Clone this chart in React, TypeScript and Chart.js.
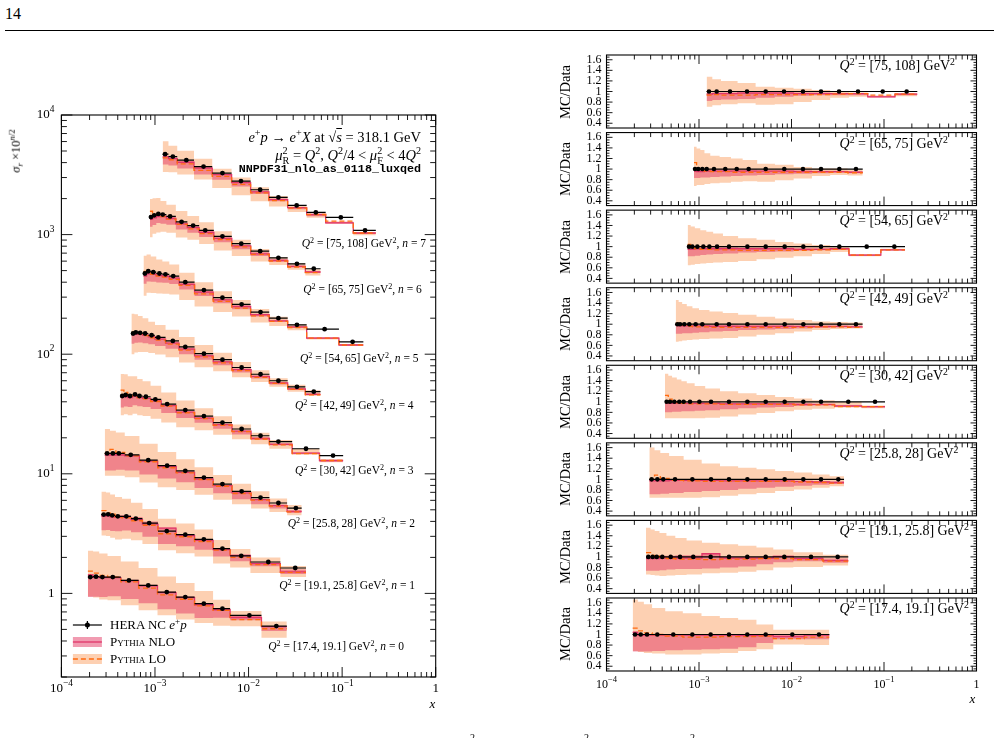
import React, { useEffect, useRef } from 'react';
import { Chart, registerables } from 'chart.js';

Chart.register(...registerables);

const W = 999;
const H = 738;

// ---------------- values ----------------
// Q² bins, index = n (left panel values are sigma_r x 10^(n/2))
const q2Low = ['17.4', '19.1', '25.8', '30', '42', '54', '65', '75'];
const q2High = ['19.1', '25.8', '28', '42', '49', '65', '75', '108'];
const nValues = [0, 1, 2, 3, 4, 5, 6, 7];

// tick values
const xTickExps = [-4, -3, -2, -1, 0];
const yTickExpsLeft = [0, 1, 2, 3, 4];
const ratioTicks = [0.4, 0.6, 0.8, 1, 1.2, 1.4, 1.6];
const ratioTickLabels = ['0.4', '0.6', '0.8', '1', '1.2', '1.4', '1.6'];

// log10(x) of the bin centres (data points)
const xCenters = [
  [-3.692, -3.63, -3.562, -3.451, -3.278, -3.072, -2.874, -2.676, -2.478, -2.279, -1.991, -1.703],
  [-3.548, -3.501, -3.457, -3.397, -3.306, -3.205, -3.062, -2.874, -2.676, -2.478, -2.279, -2.078, -1.789, -1.501],
  [-3.512, -3.45, -3.386, -3.259, -3.072, -2.87, -2.676, -2.477, -2.279, -2.074, -1.872, -1.681, -1.494],
  [-3.35, -3.314, -3.267, -3.213, -3.166, -3.097, -2.996, -2.87, -2.676, -2.477, -2.279, -2.074, -1.872, -1.681, -1.386, -1.097],
  [-3.234, -3.205, -3.159, -3.105, -3.036, -2.964, -2.809, -2.676, -2.477, -2.279, -2.074, -1.872, -1.681, -1.483, -1.303],
  [-3.108, -3.072, -3.018, -2.953, -2.888, -2.805, -2.676, -2.477, -2.279, -2.074, -1.872, -1.681, -1.483, -1.187, -0.888],
  [-3.043, -3.008, -2.964, -2.917, -2.838, -2.716, -2.592, -2.463, -2.279, -2.078, -1.876, -1.681, -1.483, -1.303],
  [-2.892, -2.809, -2.665, -2.481, -2.279, -2.081, -1.876, -1.681, -1.486, -1.281, -1.014, -0.755],
];

// log10(x) of the bin edges
const xEdges = [
  [-3.717, -3.661, -3.596, -3.507, -3.365, -3.175, -2.973, -2.775, -2.577, -2.379, -2.197, -1.862, -1.591],
  [-3.573, -3.524, -3.479, -3.427, -3.352, -3.256, -3.134, -2.968, -2.775, -2.577, -2.379, -2.197, -1.98, -1.66, -1.386],
  [-3.537, -3.481, -3.418, -3.323, -3.166, -2.971, -2.773, -2.577, -2.378, -2.177, -1.973, -1.777, -1.588, -1.432],
  [-3.368, -3.332, -3.291, -3.24, -3.19, -3.132, -3.047, -2.933, -2.773, -2.577, -2.378, -2.177, -1.973, -1.777, -1.534, -1.242, -0.989],
  [-3.252, -3.22, -3.182, -3.132, -3.071, -3.0, -2.887, -2.743, -2.577, -2.378, -2.177, -1.973, -1.777, -1.582, -1.393, -1.231],
  [-3.123, -3.09, -3.045, -2.986, -2.921, -2.847, -2.741, -2.577, -2.378, -2.177, -1.978, -1.779, -1.582, -1.379, -1.034, -0.773],
  [-3.054, -3.026, -2.986, -2.941, -2.878, -2.777, -2.654, -2.528, -2.371, -2.179, -1.977, -1.779, -1.582, -1.393, -1.23],
  [-2.918, -2.856, -2.762, -2.583, -2.388, -2.181, -1.978, -1.782, -1.582, -1.379, -1.176, -0.881, -0.64],
];

// HERA NC e+p data as plotted (sigma_r x 10^(n/2))
const sigmaData = [
  [1.37, 1.38, 1.37, 1.37, 1.285, 1.167, 1.025, 0.931, 0.82, 0.745, 0.655, 0.533],
  [4.56, 4.58, 4.5, 4.41, 4.41, 4.22, 3.87, 3.32, 3.1, 2.83, 2.37, 2.06, 1.83, 1.63],
  [14.8, 14.8, 14.8, 14.4, 13.0, 11.7, 10.6, 9.3, 8.2, 7.13, 6.33, 5.7, 5.17],
  [44.7, 45.6, 44.7, 46.1, 44.7, 44.1, 41.9, 38.3, 34.1, 30.4, 26.8, 23.7, 20.8, 18.6, 16.2, 14.2],
  [149, 152, 151, 149, 144, 138, 129, 115, 101, 90, 77.4, 68, 60, 53.4, 48.6],
  [473, 494, 485, 473, 465, 450, 400, 344, 297, 261, 225, 200, 176, 162, 127],
  [1400, 1450, 1490, 1470, 1420, 1280, 1190, 1086, 968, 840, 727, 640, 570, 518],
  [4705, 4493, 4193, 3707, 3266, 2803, 2371, 2046, 1754, 1534, 1393, 1086],
];

// MC / Data : Pythia NLO central
const ratioNLO = [
  [1.04, 0.99, 0.99, 0.99, 0.99, 0.99, 0.99, 0.99, 0.98, 0.98, 0.96, 0.99],
  [0.97, 0.97, 0.97, 0.98, 0.98, 0.98, 0.98, 1.06, 0.98, 0.98, 0.98, 1.01, 0.97, 0.93],
  [0.97, 0.97, 0.97, 0.98, 0.98, 0.98, 0.97, 0.97, 0.97, 0.97, 0.96, 0.95, 0.94],
  [0.98, 0.97, 0.97, 0.97, 0.97, 0.97, 0.97, 0.97, 0.96, 0.96, 0.96, 0.96, 0.95, 0.95, 0.92, 0.91],
  [0.98, 0.97, 0.97, 0.97, 0.97, 0.97, 0.96, 0.96, 0.96, 0.96, 0.96, 0.96, 0.96, 0.96, 0.95],
  [0.95, 0.95, 0.96, 0.96, 0.96, 0.96, 0.96, 0.96, 0.96, 0.96, 0.95, 0.95, 0.96, 0.84, 0.94],
  [0.96, 0.95, 0.95, 0.96, 0.96, 0.96, 0.96, 0.96, 0.96, 0.96, 0.95, 0.95, 0.95, 0.94],
  [0.95, 0.96, 0.96, 0.97, 0.97, 0.97, 0.96, 0.96, 0.96, 0.96, 0.9, 0.95],
];
// MC / Data : Pythia LO central
const ratioLO = [
  [1.12, 1.07, 1.03, 1.0, 0.97, 0.95, 0.95, 0.96, 0.96, 0.97, 0.92, 0.95],
  [1.08, 1.03, 1.02, 0.99, 0.97, 0.96, 0.96, 0.95, 0.96, 0.96, 0.97, 0.97, 0.95, 0.92],
  [1.0, 1.08, 1.02, 0.98, 0.97, 0.96, 0.96, 0.96, 0.96, 0.96, 0.95, 0.94, 0.93],
  [1.12, 1.05, 1.0, 0.98, 0.97, 0.96, 0.96, 0.96, 0.95, 0.95, 0.95, 0.95, 0.94, 0.94, 0.91, 0.91],
  [1.02, 1.0, 0.98, 0.96, 0.95, 0.95, 0.94, 0.94, 0.94, 0.94, 0.94, 0.94, 0.95, 0.95, 0.94],
  [1.04, 0.98, 0.96, 0.95, 0.95, 0.94, 0.94, 0.93, 0.93, 0.93, 0.93, 0.94, 0.95, 0.84, 0.94],
  [1.12, 1.0, 0.97, 0.96, 0.95, 0.95, 0.94, 0.94, 0.94, 0.94, 0.94, 0.94, 0.94, 0.93],
  [0.93, 0.94, 0.93, 0.93, 0.94, 0.94, 0.94, 0.94, 0.95, 0.96, 0.93, 0.95],
];
// NLO band (scale variation) lower / upper
const nloBandLo = [
  [0.68, 0.68, 0.68, 0.69, 0.7, 0.71, 0.72, 0.73, 0.76, 0.84, 0.91, 0.91],
  [0.74, 0.74, 0.74, 0.75, 0.76, 0.77, 0.77, 0.78, 0.8, 0.82, 0.86, 0.9, 0.92, 0.89],
  [0.72, 0.72, 0.73, 0.74, 0.76, 0.78, 0.8, 0.82, 0.84, 0.86, 0.88, 0.9, 0.91],
  [0.8, 0.8, 0.81, 0.81, 0.82, 0.82, 0.83, 0.84, 0.86, 0.88, 0.89, 0.9, 0.92, 0.93, 0.91, 0.89],
  [0.82, 0.82, 0.83, 0.83, 0.84, 0.85, 0.86, 0.87, 0.89, 0.9, 0.91, 0.92, 0.93, 0.94, 0.94],
  [0.82, 0.82, 0.83, 0.84, 0.85, 0.86, 0.87, 0.89, 0.9, 0.91, 0.92, 0.93, 0.94, 0.83, 0.93],
  [0.83, 0.83, 0.84, 0.84, 0.85, 0.86, 0.87, 0.88, 0.89, 0.9, 0.91, 0.92, 0.93, 0.92],
  [0.82, 0.84, 0.85, 0.86, 0.88, 0.9, 0.92, 0.93, 0.93, 0.93, 0.89, 0.93],
];
const nloBandHi = [
  [1.06, 1.01, 1.01, 1.01, 1.01, 1.01, 1.01, 1.01, 1.0, 1.0, 0.99, 1.0],
  [1.01, 1.01, 1.01, 1.02, 1.02, 1.03, 1.03, 1.07, 0.99, 0.99, 0.99, 1.02, 0.99, 0.97],
  [1.0, 1.0, 1.0, 1.0, 1.0, 0.99, 0.99, 0.99, 0.98, 0.98, 0.97, 0.97, 0.96],
  [1.0, 1.0, 1.0, 1.0, 0.99, 0.99, 0.99, 0.99, 0.98, 0.98, 0.98, 0.97, 0.97, 0.96, 0.93, 0.92],
  [1.0, 1.0, 0.99, 0.99, 0.99, 0.99, 0.99, 0.99, 0.98, 0.98, 0.98, 0.97, 0.97, 0.97, 0.97],
  [0.99, 0.99, 0.99, 0.99, 0.99, 0.99, 0.99, 0.98, 0.98, 0.98, 0.97, 0.97, 0.97, 0.85, 0.95],
  [0.99, 1.0, 1.0, 0.99, 0.99, 0.99, 0.99, 0.99, 0.98, 0.98, 0.98, 0.97, 0.97, 0.96],
  [0.97, 0.98, 0.98, 0.99, 0.99, 0.99, 0.98, 0.98, 0.97, 0.97, 0.92, 0.96],
];
// LO band (scale variation) lower / upper
const loBandLo = [
  [0.69, 0.67, 0.65, 0.64, 0.62, 0.62, 0.64, 0.65, 0.69, 0.72, 0.81, 0.8],
  [0.67, 0.66, 0.65, 0.64, 0.65, 0.66, 0.67, 0.69, 0.7, 0.72, 0.75, 0.8, 0.81, 0.84],
  [0.65, 0.65, 0.65, 0.65, 0.65, 0.66, 0.69, 0.72, 0.74, 0.78, 0.81, 0.84, 0.87],
  [0.69, 0.69, 0.69, 0.69, 0.69, 0.69, 0.69, 0.7, 0.72, 0.76, 0.79, 0.82, 0.85, 0.87, 0.89, 0.88],
  [0.67, 0.68, 0.69, 0.7, 0.71, 0.72, 0.73, 0.74, 0.77, 0.8, 0.83, 0.86, 0.89, 0.91, 0.92],
  [0.65, 0.66, 0.67, 0.68, 0.69, 0.7, 0.71, 0.73, 0.76, 0.79, 0.82, 0.86, 0.9, 0.82, 0.92],
  [0.68, 0.7, 0.7, 0.72, 0.73, 0.74, 0.76, 0.77, 0.76, 0.79, 0.82, 0.87, 0.89, 0.88],
  [0.71, 0.74, 0.76, 0.78, 0.75, 0.76, 0.8, 0.84, 0.88, 0.9, 0.89, 0.91],
];
const loBandHi = [
  [1.66, 1.62, 1.57, 1.5, 1.44, 1.4, 1.35, 1.31, 1.28, 1.19, 1.09, 1.09],
  [1.55, 1.52, 1.49, 1.45, 1.4, 1.36, 1.31, 1.27, 1.24, 1.21, 1.18, 1.14, 1.09, 1.04],
  [1.6, 1.55, 1.5, 1.44, 1.37, 1.3, 1.25, 1.22, 1.19, 1.16, 1.13, 1.09, 1.06],
  [1.53, 1.49, 1.46, 1.42, 1.39, 1.35, 1.3, 1.25, 1.2, 1.16, 1.13, 1.09, 1.06, 1.03, 1.0, 0.93],
  [1.46, 1.42, 1.38, 1.34, 1.3, 1.27, 1.24, 1.21, 1.18, 1.14, 1.11, 1.08, 1.05, 1.04, 1.03],
  [1.41, 1.38, 1.35, 1.31, 1.28, 1.25, 1.2, 1.16, 1.13, 1.09, 1.06, 1.03, 1.01, 0.86, 0.96],
  [1.42, 1.39, 1.36, 1.3, 1.25, 1.23, 1.2, 1.17, 1.1, 1.08, 1.04, 1.01, 1.01, 0.99],
  [1.28, 1.23, 1.2, 1.16, 1.09, 1.07, 1.05, 1.03, 1.0, 0.98, 0.92, 0.97],
];

// ---------------- layout & style ----------------
const LEFT_AREA = { left: 61.4, right: 435.7, top: 115, bottom: 677 };
const RIGHT_X = { left: 606.5, right: 976.5 };
const PANEL_TOP0 = 55;
const PANEL_PITCH = 77.57;
const PANEL_H = 73;

const PEACH = 'rgb(253, 208, 178)';
const PINK = 'rgba(228, 55, 100, 0.5)';
const NLO_COLOR = '#e0356a';
const LO_COLOR = '#ff6a10';
const FONT = '"Liberation Serif", "DejaVu Serif", serif';

// left-panel Q² label anchors (left x, baseline y)
const leftLabelPos = [
  [268.3, 650.7], [279.3, 590], [287.7, 527.7], [295, 474.3],
  [295, 409.3], [300, 362.7], [303.3, 293.3], [301.7, 248],
];

const pow10 = (v: number) => Math.pow(10, v);

function stepLine(edges: number[], vals: number[]) {
  const pts = vals.map((v, i) => ({ x: pow10(edges[i]), y: v }));
  pts.push({ x: pow10(edges[edges.length - 1]), y: vals[vals.length - 1] });
  return pts;
}

function binBars(edges: number[], vals: number[]) {
  const pts: any[] = [];
  vals.forEach((v, i) => {
    pts.push({ x: pow10(edges[i]), y: v }, { x: pow10(edges[i + 1]), y: v }, { x: pow10(edges[i + 1]), y: null });
  });
  return pts;
}

function rowDatasets(n: number, absolute: boolean, dotRadius: number) {
  const e = xEdges[n];
  const data = sigmaData[n];
  const base = absolute ? data : data.map((v) => v / v);
  const sc = (r: number[]) => r.map((v, i) => v * base[i]);
  const step = { type: 'line', stepped: true, pointRadius: 0, tension: 0 };
  const hidden = { borderWidth: 0, borderColor: 'rgba(0,0,0,0)' };
  return [
    { ...step, ...hidden, data: stepLine(e, sc(loBandHi[n])), fill: false, order: 7 },
    { ...step, ...hidden, data: stepLine(e, sc(loBandLo[n])), fill: '-1', backgroundColor: PEACH, order: 7 },
    { ...step, ...hidden, data: stepLine(e, sc(nloBandHi[n])), fill: false, order: 6 },
    { ...step, ...hidden, data: stepLine(e, sc(nloBandLo[n])), fill: '-1', backgroundColor: PINK, order: 6 },
    { ...step, data: stepLine(e, sc(ratioNLO[n])), borderWidth: 1.3, borderColor: NLO_COLOR, fill: false, order: 4 },
    { ...step, data: stepLine(e, sc(ratioLO[n])), borderWidth: 1.3, borderColor: LO_COLOR, borderDash: [5, 3], fill: false, order: 3 },
    { type: 'line', data: binBars(e, base), borderWidth: 1.2, borderColor: '#000', pointRadius: 0, fill: false, spanGaps: false, order: 2 },
    {
      type: 'line',
      data: xCenters[n].map((c, i) => ({ x: pow10(c), y: base[i] })),
      showLine: false, pointRadius: dotRadius, pointBackgroundColor: '#000', pointBorderWidth: 0, order: 1,
    },
  ];
}

function drawPow(ctx: any, base: string, exp: string, x: number, y: number, align: string, size: number) {
  ctx.font = `${size}px ${FONT}`;
  const wb = ctx.measureText(base).width;
  const small = `${(size * 0.72).toFixed(1)}px ${FONT}`;
  ctx.font = small;
  const we = exp ? ctx.measureText(exp).width : 0;
  const total = wb + we;
  const x0 = align === 'center' ? x - total / 2 : align === 'right' ? x - total : x;
  ctx.textAlign = 'left';
  ctx.textBaseline = 'middle';
  ctx.font = `${size}px ${FONT}`;
  ctx.fillText(base, x0, y);
  if (exp) {
    ctx.font = small;
    ctx.fillText(exp, x0 + wb, y - size * 0.42);
  }
}

const framePlugin = {
  id: 'frame',
  afterDatasetsDraw(chart: any, _args: any, o: any) {
    const { ctx, chartArea: a } = chart;
    const xs = chart.scales.x;
    const ys = chart.scales.y;
    ctx.save();
    ctx.strokeStyle = '#000';
    ctx.fillStyle = '#000';
    ctx.lineWidth = 0.9;
    const seg = (x1: number, y1: number, x2: number, y2: number) => {
      ctx.beginPath();
      ctx.moveTo(x1, y1);
      ctx.lineTo(x2, y2);
      ctx.stroke();
    };
    for (const e of xTickExps) {
      for (let m = 1; m <= 9; m++) {
        const v = m * Math.pow(10, e);
        if (v > xs.max * 1.0001) break;
        const px = xs.getPixelForValue(v);
        const len = m === 1 ? o.xMajor : o.xMinor;
        seg(px, a.top, px, a.top + len);
        seg(px, a.bottom, px, a.bottom - len);
      }
    }
    if (o.logY) {
      for (let e = -1; e <= 4; e++) {
        for (let m = 1; m <= 9; m++) {
          const v = m * Math.pow(10, e);
          if (v < ys.min * 0.9999 || v > ys.max * 1.0001) continue;
          const py = ys.getPixelForValue(v);
          const len = m === 1 ? o.yMajor : o.yMinor;
          seg(a.left, py, a.left + len, py);
          seg(a.right, py, a.right - len, py);
        }
      }
    } else {
      for (let k = 7; k <= 33; k++) {
        const py = ys.getPixelForValue(k * 0.05);
        const len = k % 4 === 0 ? o.yMajor : o.yMinor;
        seg(a.left, py, a.left + len, py);
        seg(a.right, py, a.right - len, py);
      }
    }
    ctx.lineWidth = 1.1;
    ctx.strokeRect(a.left, a.top, a.right - a.left, a.bottom - a.top);

    if (o.xLabels) {
      for (const e of xTickExps) {
        const px = xs.getPixelForValue(Math.pow(10, e));
        drawPow(ctx, e === 0 ? '1' : '10', e === 0 ? '' : '\u2212' + Math.abs(e), px, a.bottom + o.xLabelGap, 'center', o.labelSize);
      }
    }
    if (o.logY) {
      for (const e of yTickExpsLeft) {
        const py = ys.getPixelForValue(Math.pow(10, e));
        drawPow(ctx, e === 0 ? '1' : '10', e === 0 ? '' : String(e), a.left - 7, py, 'right', o.labelSize);
      }
    } else {
      ctx.font = `${o.labelSize}px ${FONT}`;
      ctx.textAlign = 'right';
      ctx.textBaseline = 'middle';
      ratioTicks.forEach((v, i) => ctx.fillText(ratioTickLabels[i], a.left - 5, ys.getPixelForValue(v)));
    }

    if (o.legend) {
      const x0 = a.left + 11.5;
      const x1 = a.left + 40.5;
      const xm = (x0 + x1) / 2;
      const r1 = a.bottom - 52;
      const r2 = a.bottom - 35;
      const r3 = a.bottom - 18;
      ctx.lineWidth = 1.2;
      ctx.strokeStyle = '#000';
      seg(x0, r1, x1, r1);
      seg(xm, r1 - 4, xm, r1 + 4);
      ctx.fillStyle = '#000';
      ctx.beginPath();
      ctx.arc(xm, r1, 2.5, 0, Math.PI * 2);
      ctx.fill();
      ctx.fillStyle = PINK;
      ctx.fillRect(x0, r2 - 5, x1 - x0, 10);
      ctx.strokeStyle = NLO_COLOR;
      ctx.lineWidth = 1.3;
      seg(x0, r2, x1, r2);
      ctx.fillStyle = PEACH;
      ctx.fillRect(x0, r3 - 5, x1 - x0, 10);
      ctx.strokeStyle = LO_COLOR;
      ctx.setLineDash([5, 3]);
      seg(x0, r3, x1, r3);
      ctx.setLineDash([]);
    }
    ctx.restore();
  },
};

function baseOptions(area: any, yScale: any, frame: any) {
  return {
    animation: false,
    responsive: false,
    devicePixelRatio: 1,
    events: [],
    layout: { padding: { left: area.left, right: W - area.right, top: area.top, bottom: H - area.bottom } },
    plugins: { legend: { display: false }, tooltip: { enabled: false }, title: { display: false }, frame },
    scales: {
      x: { type: 'logarithmic', min: 1e-4, max: 1, display: false },
      y: { ...yScale, display: false },
    },
  };
}

function makeLeft(canvas: HTMLCanvasElement) {
  const datasets = nValues.flatMap((n) => rowDatasets(n, true, 2.4));
  return new Chart(canvas, {
    type: 'line',
    data: { datasets } as any,
    options: baseOptions(LEFT_AREA, { type: 'logarithmic', min: 0.2, max: 1e4 }, {
      logY: true, xLabels: true, legend: true, xMajor: 10, xMinor: 5, yMajor: 11, yMinor: 5.5, labelSize: 13, xLabelGap: 12,
    }) as any,
    plugins: [framePlugin as any],
  });
}

function panelTop(k: number) {
  return PANEL_TOP0 + k * PANEL_PITCH;
}

function makeRatio(canvas: HTMLCanvasElement, k: number) {
  const n = 7 - k;
  const top = panelTop(k);
  const area = { left: RIGHT_X.left, right: RIGHT_X.right, top, bottom: top + PANEL_H };
  return new Chart(canvas, {
    type: 'line',
    data: { datasets: rowDatasets(n, false, 2.3) } as any,
    options: baseOptions(area, { type: 'linear', min: 0.31, max: 1.69 }, {
      logY: false, xLabels: k === 7, legend: false, xMajor: 9, xMinor: 4.5, yMajor: 6, yMinor: 3, labelSize: 12, xLabelGap: 14,
    }) as any,
    plugins: [framePlugin as any],
  });
}

function ChartCanvas({ make }: { make: (c: HTMLCanvasElement) => Chart }) {
  const ref = useRef<HTMLCanvasElement | null>(null);
  useEffect(() => {
    const chart = make(ref.current as HTMLCanvasElement);
    return () => chart.destroy();
  }, []);
  return <canvas ref={ref} width={W} height={H} style={{ position: 'absolute', left: 0, top: 0, width: W, height: H }} />;
}

const Sup = ({ children }: any) => (
  <span style={{ fontSize: '0.7em', verticalAlign: '0.55em', lineHeight: 0 }}>{children}</span>
);
const Sub = ({ children }: any) => (
  <span style={{ fontSize: '0.7em', verticalAlign: '-0.35em', lineHeight: 0 }}>{children}</span>
);
const SupSub = ({ sup, sub }: any) => (
  <span style={{ display: 'inline-flex', flexDirection: 'column', fontSize: '0.7em', lineHeight: 0.95, verticalAlign: '0.55em' }}>
    <span>{sup}</span>
    <span>{sub}</span>
  </span>
);

function Txt({ x, base, size, align = 'left', children, style }: any) {
  const s: any = {
    position: 'absolute', top: base - 0.84 * size, fontSize: size, lineHeight: 1, whiteSpace: 'nowrap', ...style,
  };
  if (align === 'right') s.right = W - x;
  else s.left = x;
  return <div style={s}>{children}</div>;
}

function RotTxt({ cx, cy, size, children }: any) {
  return (
    <div style={{
      position: 'absolute', left: cx, top: cy, fontSize: size, lineHeight: 1, whiteSpace: 'nowrap',
      transform: 'translate(-50%, -50%) rotate(-90deg)',
    }}>{children}</div>
  );
}

const TH = '\u2009';

export default function App() {
  const panels = [0, 1, 2, 3, 4, 5, 6, 7];
  return (
    <div style={{ position: 'absolute', left: 0, top: 0, width: W, height: H, overflow: 'hidden', background: '#fff', fontFamily: FONT, color: '#000' }}>
      <Txt x={5} base={19} size={16}>14</Txt>
      <div style={{ position: 'absolute', left: 5, top: 30, width: 989, height: 1, background: '#000' }} />

      <ChartCanvas make={makeLeft} />
      {panels.map((k) => (
        <ChartCanvas key={k} make={(c) => makeRatio(c, k)} />
      ))}

      {/* left panel annotations */}
      <Txt x={421} base={142.5} size={14.5} align="right">
        <i>e</i><Sup>+</Sup><i>p</i> → <i>e</i><Sup>+</Sup><i>X</i> at √<span style={{ textDecoration: 'overline' }}><i>s</i></span> = 318.1 GeV
      </Txt>
      <Txt x={421} base={158.3} size={14.5} align="right">
        <i>μ</i><SupSub sup="2" sub="R" /> = <i>Q</i><Sup>2</Sup>, <i>Q</i><Sup>2</Sup>/4 &lt; <i>μ</i><SupSub sup="2" sub="F" /> &lt; 4<i>Q</i><Sup>2</Sup>
      </Txt>
      <Txt x={421} base={174} size={11.7} align="right" style={{ fontFamily: '"Liberation Mono", "DejaVu Sans Mono", monospace', fontWeight: 'bold' }}>
        NNPDF31_nlo_as_0118_luxqed
      </Txt>

      {nValues.map((n) => (
        <Txt key={'l' + n} x={leftLabelPos[n][0]} base={leftLabelPos[n][1]} size={11.5}>
          <i>Q</i><Sup>2</Sup> = [{q2Low[n]},{TH}{q2High[n]}] GeV<Sup>2</Sup>, <i>n</i> = {n}
        </Txt>
      ))}

      {/* legend text */}
      <Txt x={110} base={629.3} size={13}>HERA NC <i>e</i><Sup>+</Sup><i>p</i></Txt>
      <Txt x={110} base={645.7} size={13}><span style={{ fontVariant: 'small-caps' }}>Pythia</span> NLO</Txt>
      <Txt x={110} base={662.7} size={13}><span style={{ fontVariant: 'small-caps' }}>Pythia</span> LO</Txt>

      <RotTxt cx={16} cy={150.7} size={12.5}>
        <i>σ<Sub>r</Sub></i> ×10<Sup><i>n</i>/2</Sup>
      </RotTxt>
      <Txt x={429.5} base={708} size={13}><i>x</i></Txt>

      {/* ratio panels */}
      {panels.map((k) => (
        <RotTxt key={'m' + k} cx={565} cy={panelTop(k) + PANEL_H / 2} size={14.5}>MC/Data</RotTxt>
      ))}
      {panels.map((k) => {
        const n = 7 - k;
        return (
          <Txt key={'q' + k} x={839.5} base={panelTop(k) + 15.7} size={14}>
            <i>Q</i><Sup>2</Sup> = [{q2Low[n]},{TH}{q2High[n]}] GeV<Sup>2</Sup>
          </Txt>
        );
      })}
      <Txt x={969.5} base={703} size={13}><i>x</i></Txt>

      {/* caption line (cut off by the page edge) */}
      <Txt x={470} base={741} size={10}>2</Txt>
      <Txt x={584} base={741} size={10}>2</Txt>
      <Txt x={690} base={741} size={10}>2</Txt>
    </div>
  );
}
